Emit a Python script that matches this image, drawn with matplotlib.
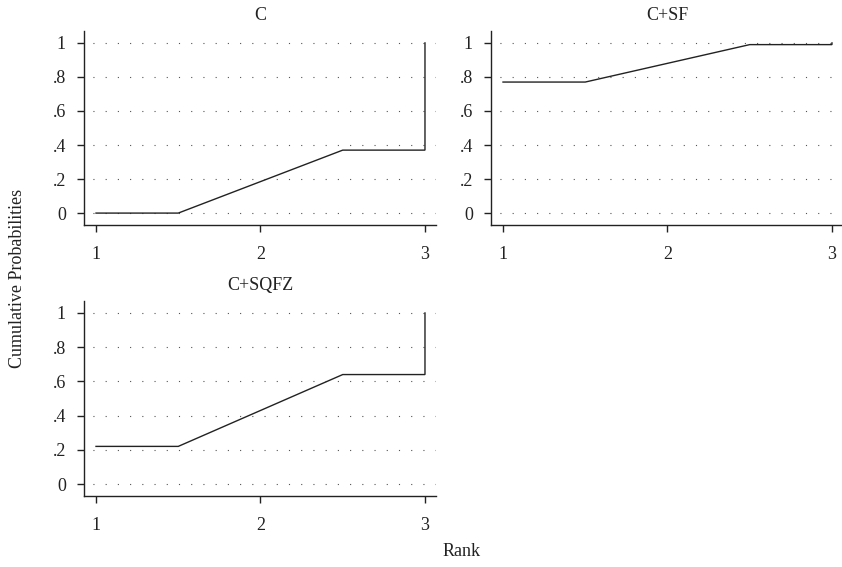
"""Cumulative ranking probabilities (SUCRA-style) for three treatments."""

import matplotlib.pyplot as plt

plt.rcParams["font.family"] = ["Liberation Serif", "DejaVu Serif"]

TREATMENTS = ["C", "C+SF", "C+SQFZ"]
RANKS = [1, 2, 3]
# cumulative probability of being ranked at or above each rank
CUM_PROB = {
    "C": [0.0, 0.37, 1.0],
    "C+SF": [0.77, 0.99, 1.0],
    "C+SQFZ": [0.22, 0.64, 1.0],
}
Y_TICKS = [0, 0.2, 0.4, 0.6, 0.8, 1.0]
Y_LABELS = ["0", ".2", ".4", ".6", ".8", "1"]

W, H = 842, 567
FS = 13
INK = "#222222"
# axes boxes in pixels: left, top, right, bottom
BOXES = {
    "C": (84, 31, 436, 225),
    "C+SF": (491, 31, 843, 225),
    "C+SQFZ": (84, 301, 436, 496),
}


def step_path(ranks, probs):
    """Flat around the first rank, ramp between mid-points, then jump at the end."""
    xs = [ranks[0]]
    ys = [probs[0]]
    for i in range(len(ranks) - 2):
        xs += [(ranks[i] + ranks[i + 1]) / 2, (ranks[i + 1] + ranks[i + 2]) / 2]
        ys += [probs[i], probs[i + 1]]
    xs += [ranks[-1], ranks[-1]]
    ys += [probs[-2], probs[-1]]
    return xs, ys


fig = plt.figure(figsize=(W / 100, H / 100), dpi=100)

for name in TREATMENTS:
    l, t, r, b = BOXES[name]
    ax = fig.add_axes([l / W, 1 - b / H, (r - l) / W, (b - t) / H])
    xs, ys = step_path(RANKS, CUM_PROB[name])
    ax.plot(xs, ys, color=INK, lw=1.0, solid_joinstyle="miter")
    ax.set_xlim(0.927, 3.067)
    ax.set_ylim(-0.07, 1.07)
    ax.set_xticks(RANKS)
    ax.set_xticklabels([str(v) for v in RANKS])
    ax.set_yticks(Y_TICKS)
    ax.set_yticklabels(Y_LABELS)
    for y in Y_TICKS:
        ax.axhline(y, color="#555555", lw=0.8, ls=(3, (1, 10)), zorder=0)
    for side in ("top", "right"):
        ax.spines[side].set_visible(False)
    for side in ("left", "bottom"):
        ax.spines[side].set_linewidth(1.0)
        ax.spines[side].set_color(INK)
    ax.tick_params(length=5, width=1.0, color=INK, labelsize=FS,
                   labelcolor=INK)
    ax.tick_params(axis="y", pad=8)
    ax.tick_params(axis="x", pad=10)
    ax.set_title(name, fontsize=FS, color=INK, pad=8)

fig.text(18 / W, 1 - 278 / H, "Cumulative Probabilities", rotation=90,
         ha="center", va="center", fontsize=FS, color=INK)
fig.text(462 / W, 1 - 551 / H, "Rank", ha="center", va="center",
         fontsize=FS, color=INK)

fig.savefig("out.png", dpi=100)
